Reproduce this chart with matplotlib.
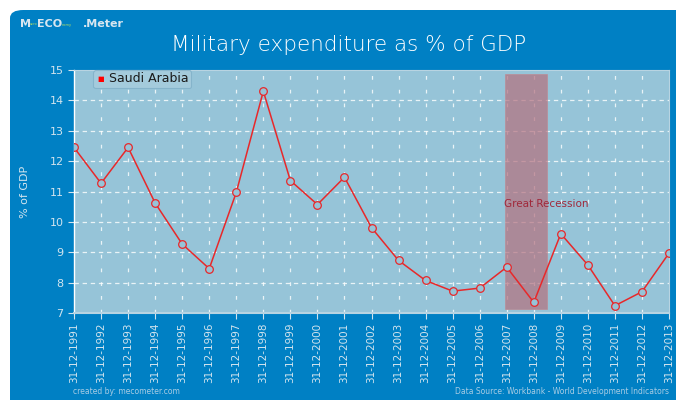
import matplotlib
matplotlib.use("Agg")
import matplotlib.pyplot as plt
from matplotlib.patches import FancyBboxPatch, Rectangle

# data
years = list(range(1991, 2014))
tick_labels = [f"31-12-{y}" for y in years]
saudi_arabia = [12.45, 11.27, 12.45, 10.62, 9.27, 8.46, 10.97, 14.30, 11.36, 10.57,
                11.47, 9.81, 8.73, 8.07, 7.72, 7.82, 8.51, 7.35, 9.61, 8.58,
                7.24, 7.70, 8.97]
recession_span = (2006.92, 2008.5)

W, H = 676, 400
panel_blue = "#0080C4"
plot_bg = "#96C4D8"
light = "#D2E4EE"

fig = plt.figure(figsize=(W / 100, H / 100), dpi=100)
fig.patch.set_facecolor("white")

# blue panel with rounded corner
panel = FancyBboxPatch((10 / W, -0.1), 1.2, (H - 10) / H + 0.1,
                       boxstyle="round,pad=0,rounding_size=0.02",
                       transform=fig.transFigure, facecolor=panel_blue,
                       edgecolor="none", zorder=-10)
fig.patches.append(panel)

left, right, top, bottom = 74, 669, 70, 313
ax = fig.add_axes([left / W, (H - bottom) / H, (right - left) / W, (bottom - top) / H])
ax.set_zorder(1)
ax.set_facecolor(plot_bg)

ax.set_xlim(years[0], years[-1])
ax.set_ylim(7, 15)

# grid
for yv in range(8, 15):
    ax.axhline(yv, color="white", lw=0.9, alpha=0.8, linestyle=(0, (3.5, 3)), zorder=1)
for xv in years[1:-1]:
    ax.axvline(xv, color="white", lw=0.9, alpha=0.8, linestyle=(0, (3, 8)), zorder=1)

# recession band
ax.add_patch(Rectangle((recession_span[0], 7.12), recession_span[1] - recession_span[0], 14.87 - 7.12,
                       facecolor="#B4707E", alpha=0.7, edgecolor="#C08890", lw=0.6, zorder=2))
ax.text(recession_span[0] - 0.03, 10.6, "Great Recession", color="#A0283A",
        fontsize=7.5, va="center", ha="left", zorder=3)

ax.plot(years, saudi_arabia, color="#E8282A", lw=1.1, marker="o", markersize=5.5,
        markerfacecolor=plot_bg, markeredgecolor="#E8282A", markeredgewidth=0.9,
        zorder=4, label="Saudi Arabia")

ax.set_xticks(years)
ax.set_xticklabels(tick_labels, rotation=90, fontsize=7.5, color=light)
ax.set_yticks(range(7, 16))
ax.tick_params(axis="y", labelsize=8, colors=light, length=4, width=0.8)
ax.tick_params(axis="x", colors=light, length=4, width=0.8, pad=3)
for lab in ax.get_yticklabels():
    lab.set_color(light)

for s in ["top", "right"]:
    ax.spines[s].set_color("#B8D4E2")
    ax.spines[s].set_linewidth(0.8)
ax.spines["left"].set_color("white")
ax.spines["bottom"].set_color("#B8D4E2")
ax.spines["left"].set_linewidth(1.0)
ax.spines["bottom"].set_linewidth(1.5)

ax.set_ylabel("% of GDP", color=light, fontsize=8, labelpad=14)

leg = ax.legend(loc="upper left", bbox_to_anchor=(0.032, 1.0), borderaxespad=0,
                fontsize=9, frameon=True, fancybox=True, handlelength=0.6,
                handletextpad=0.5, borderpad=0.2, markerscale=0.0001)
leg.get_frame().set_facecolor("#A8CEDE")
leg.get_frame().set_edgecolor("#7FB0C8")
leg.get_frame().set_linewidth(0.8)
for t in leg.get_texts():
    t.set_color("#1A1A1A")
for h in leg.legend_handles:
    h.set_visible(False)
# red square legend marker
fig.text(101 / W, 1 - 79 / H, "\u25A0", color="#FF0000", fontsize=5, va="center", ha="center",
         zorder=5)

# title and logo
fig.text(349 / W, 1 - 45 / H, "Military expenditure as % of GDP", color="white",
         fontsize=15.5, ha="center", va="center", fontweight="light")
fig.text(20 / W, 1 - 24 / H, "M", color="#D8E6F0", fontsize=8, fontweight="bold", va="center")
fig.text(29.5 / W, 1 - 24 / H, "acro", color="#B8E060", fontsize=2.5, va="center")
fig.text(37 / W, 1 - 24 / H, "ECO", color="#D8E6F0", fontsize=8, fontweight="bold", va="center")
fig.text(62 / W, 1 - 25 / H, "nomy", color="#B8E060", fontsize=2.5, va="center")
fig.text(83 / W, 1 - 24 / H, ".Meter", color="#D8E6F0", fontsize=8, fontweight="bold", va="center")

# footer
fig.text(73 / W, 1 - 392 / H, "created by: mecometer.com", color="#A8CCE4", fontsize=5.5, va="center")
fig.text(669 / W, 1 - 392 / H, "Data Source: Workbank - World Development Indicators",
         color="#A8CCE4", fontsize=5.5, va="center", ha="right")

fig.savefig("out.png", dpi=100)
